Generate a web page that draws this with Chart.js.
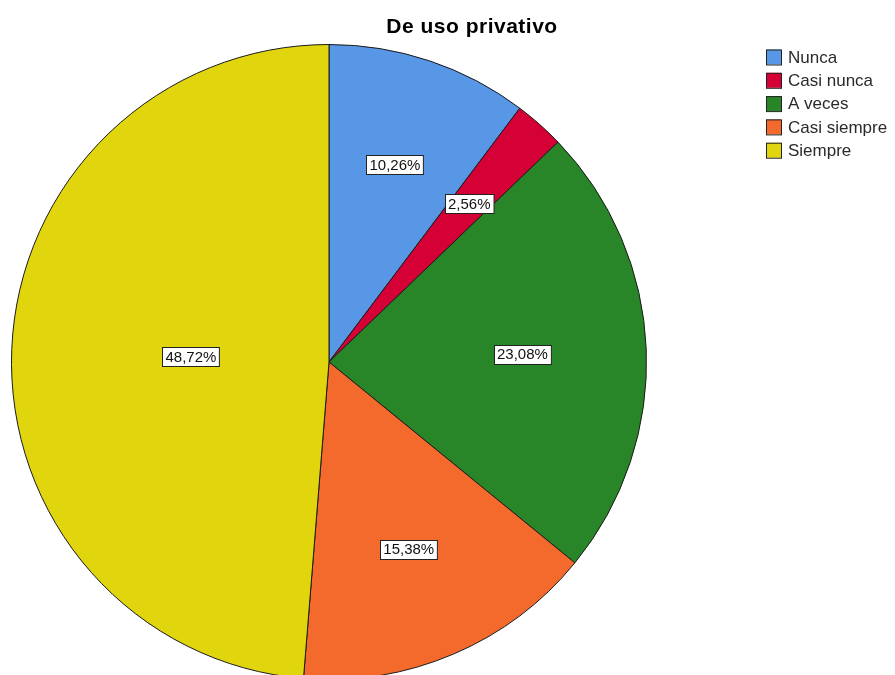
<!DOCTYPE html>
<html>
<head>
<meta charset="utf-8">
<script src="https://cdn.jsdelivr.net/npm/chart.js@4.4.1/dist/chart.umd.min.js"></script>
<style>
html,body{margin:0;padding:0;overflow:hidden;background:#fff;}
#wrap{width:895px;height:720px;}
</style>
</head>
<body>
<div id="wrap"><canvas id="c" width="895" height="720"></canvas></div>
<script>
const chartTitle = "De uso privativo";
const categories = ["Nunca", "Casi nunca", "A veces", "Casi siempre", "Siempre"];
const percentages = [10.26, 2.56, 23.08, 15.38, 48.72];
const sliceColors = ["#5797e6", "#d50036", "#288628", "#f36a2c", "#e1d60e"];
const percentLabels = ["10,26%", "2,56%", "23,08%", "15,38%", "48,72%"];

const FONT = '"Liberation Sans", Arial, sans-serif';

const titlePlugin = {
  id: 'customTitle',
  afterDraw(chart) {
    const ctx = chart.ctx;
    ctx.save();
    ctx.font = 'bold 21px ' + FONT;
    try { ctx.letterSpacing = '0.5px'; } catch (e) {}
    ctx.fillStyle = '#000';
    ctx.textAlign = 'center';
    ctx.textBaseline = 'middle';
    ctx.fillText(chartTitle, 472, 27);
    ctx.restore();
  }
};

const legendPlugin = {
  id: 'customLegend',
  afterDraw(chart) {
    const ctx = chart.ctx;
    ctx.save();
    ctx.font = '17px ' + FONT;
    ctx.textBaseline = 'middle';
    ctx.textAlign = 'left';
    categories.forEach((c, i) => {
      const y = 57 + i * 23.3;
      ctx.fillStyle = sliceColors[i];
      ctx.fillRect(766, y - 7.5, 15, 15);
      ctx.strokeStyle = '#222';
      ctx.lineWidth = 1;
      ctx.strokeRect(766.5, y - 7, 15, 15);
      ctx.fillStyle = '#2a2a2a';
      ctx.fillText(c, 788, y + 1);
    });
    ctx.restore();
  }
};

const labelPlugin = {
  id: 'sliceLabels',
  afterDatasetsDraw(chart) {
    const ctx = chart.ctx;
    const meta = chart.getDatasetMeta(0);
    ctx.save();
    ctx.font = '15px ' + FONT;
    ctx.textAlign = 'center';
    ctx.textBaseline = 'middle';
    meta.data.forEach((arc, i) => {
      const p = arc.getProps(['x', 'y', 'startAngle', 'endAngle', 'outerRadius'], true);
      const half = (p.endAngle - p.startAngle) / 2;
      const mid = p.startAngle + half;
      const d = 2 * p.outerRadius * Math.sin(half) / (3 * half);
      const x = p.x + Math.cos(mid) * d;
      const y = p.y + Math.sin(mid) * d;
      const txt = percentLabels[i];
      const w = ctx.measureText(txt).width + 6;
      const h = 19;
      const bx = Math.round(x - w / 2) + 0.5, by = Math.round(y - h / 2) + 0.5;
      ctx.fillStyle = '#fff';
      ctx.fillRect(bx, by, w, h);
      ctx.strokeStyle = '#222';
      ctx.lineWidth = 1;
      ctx.strokeRect(bx, by, w, h);
      ctx.fillStyle = '#111';
      ctx.fillText(txt, x, y + 1);
    });
    ctx.restore();
  }
};

new Chart(document.getElementById('c'), {
  type: 'pie',
  data: {
    labels: categories,
    datasets: [{
      data: percentages,
      backgroundColor: sliceColors,
      borderColor: '#1a1a1a',
      borderWidth: 1
    }]
  },
  options: {
    responsive: false,
    animation: false,
    layout: { padding: { left: 11, top: 44, right: 248, bottom: 40 } },
    plugins: {
      legend: { display: false },
      title: { display: false },
      tooltip: { enabled: false }
    }
  },
  plugins: [titlePlugin, legendPlugin, labelPlugin]
});
</script>
</body>
</html>
